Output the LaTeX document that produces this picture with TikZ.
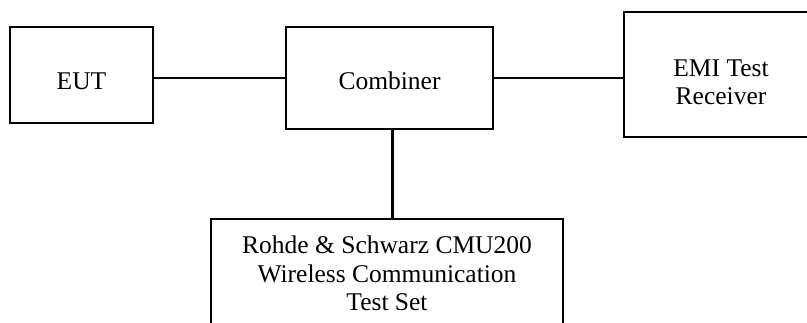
\documentclass[tikz,border=0pt]{standalone}
\usepackage{fontspec}
\setmainfont{Liberation Serif}
\usepackage{tikz}
\usetikzlibrary{positioning}

\begin{document}
\begin{tikzpicture}[x=1pt,y=-1pt,
			block/.style = {draw, shape=rectangle, align=center, line width=1.4pt,
				font=\fontsize{25.5}{28.5}\selectfont},
			link/.style = {line width=2.6pt}
			]
			\useasboundingbox (0,0) rectangle (807,323);
			\clip (0,0) rectangle (807,323);
			\node [block, minimum width=143pt, minimum height=96pt, text height=30pt, text depth=0pt] (eut) at (81.5,75) {EUT};
			\node [block, minimum width=207pt, minimum height=102pt, text height=24pt, text depth=0pt] (comb) at (389.5,78) {Combiner};
			\node [block, minimum width=194pt, minimum height=125pt, text height=61pt, text depth=0pt] (emi) at (721,74.5) {EMI Test\\Receiver};
			\node [block, minimum width=352pt, minimum height=116pt, text height=68pt, text depth=0pt] (cmu) at (387,277) {Rohde \& Schwarz CMU200\\Wireless Communication\\Test Set};
			\draw[link] (comb.west) -- (comb.west -| eut.east);
			\draw[link] (comb.east) -- (comb.east -| emi.west);
			\draw[link] ([xshift=3pt]comb.south) -- ([xshift=3pt]comb.south |- cmu.north);
		\end{tikzpicture}
\end{document}
